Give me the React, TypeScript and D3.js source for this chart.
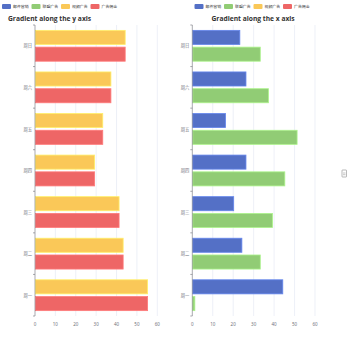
import React, { useRef, useEffect } from 'react';
import * as d3 from 'd3';

const days = ['周一', '周二', '周三', '周四', '周五', '周六', '周日'];
const legendNames = ['邮件营销', '联盟广告', '视频广告', '广告佣金'];
const palette = ['#5470c6', '#91cc75', '#fac858', '#ee6666'];

// left chart
const videoAds = [55, 43, 41, 29, 33, 37, 44];
const adCommission = [55, 43, 41, 29, 33, 37, 44];
// right chart
const emailMarketing = [44, 24, 20, 26, 16, 26, 23];
const unionAds = [1, 33, 39, 45, 51, 37, 33];

const xTicks = [0, 10, 20, 30, 40, 50, 60];

const W = 350;
const H = 350;

const App: React.FC = () => {
    const svgRef = useRef<SVGSVGElement | null>(null);

    useEffect(() => {
        if (!svgRef.current) return;
        const svg = d3.select(svgRef.current);
        svg.selectAll('*').remove();

        const top = 25;
        const bottom = 316;

        const drawLegend = (x0: number) => {
            const g = svg.append('g').attr('transform', `translate(${x0},4)`);
            let x = 0;
            legendNames.forEach((name, i) => {
                g.append('rect')
                    .attr('x', x)
                    .attr('y', 0)
                    .attr('width', 9)
                    .attr('height', 5)
                    .attr('rx', 1)
                    .attr('fill', palette[i]);
                g.append('text')
                    .attr('x', x + 11)
                    .attr('y', 4.4)
                    .attr('font-size', 3.9)
                    .attr('fill', '#333')
                    .attr('font-family', '"Noto Sans CJK SC", sans-serif')
                    .text(name);
                x += 29.5;
            });
        };

        const drawChart = (
            left: number,
            right: number,
            title: string,
            titleX: number,
            series: { values: number[]; color: string }[],
        ) => {
            const x = d3.scaleLinear().domain([0, 60]).range([left, right]);
            const y = d3
                .scaleBand<string>()
                .domain(days.slice().reverse())
                .range([top, bottom])
                .padding(0);
            const inner = d3
                .scaleBand<number>()
                .domain(series.map((_, i) => i))
                .range([0, y.bandwidth()])
                .paddingInner(0.16)
                .paddingOuter(0.32);

            svg.append('text')
                .attr('x', titleX)
                .attr('y', 20.5)
                .attr('font-size', 6.7)
                .attr('font-weight', 'bold')
                .attr('fill', '#333')
                .attr('font-family', '"Open Sans", sans-serif')
                .text(title);

            // grid
            svg.append('g')
                .selectAll('line')
                .data(xTicks.slice(1))
                .enter()
                .append('line')
                .attr('x1', (d) => x(d))
                .attr('x2', (d) => x(d))
                .attr('y1', top)
                .attr('y2', bottom)
                .attr('stroke', '#e0e6f1')
                .attr('stroke-width', 0.6);

            // bars
            series.forEach((s, i) => {
                const stroke = d3.color(s.color)!.brighter(0.5).formatHex();
                svg.append('g')
                    .selectAll('rect')
                    .data(days.map((d, j) => ({ day: d, v: s.values[j] })))
                    .enter()
                    .append('rect')
                    .attr('x', x(0) + 0.5)
                    .attr('y', (d) => (y(d.day) as number) + (inner(i) as number))
                    .attr('width', (d) => Math.max(0, x(d.v) - x(0)))
                    .attr('height', inner.bandwidth())
                    .attr('fill', s.color)
                    .attr('stroke', stroke)
                    .attr('stroke-width', 0.8);
            });

            // y axis
            const ya = svg.append('g');
            ya.append('line')
                .attr('x1', left)
                .attr('x2', left)
                .attr('y1', top)
                .attr('y2', bottom)
                .attr('stroke', '#6e7079')
                .attr('stroke-width', 0.6);
            const bounds = days.map((d) => y(d) as number).concat([bottom]);
            ya.selectAll('line.tick')
                .data(bounds)
                .enter()
                .append('line')
                .attr('class', 'tick')
                .attr('x1', left - 2)
                .attr('x2', left)
                .attr('y1', (d) => d)
                .attr('y2', (d) => d)
                .attr('stroke', '#6e7079')
                .attr('stroke-width', 0.6);
            ya.selectAll('text')
                .data(days)
                .enter()
                .append('text')
                .attr('x', left - 3)
                .attr('y', (d) => (y(d) as number) + y.bandwidth() / 2 + 1.6)
                .attr('text-anchor', 'end')
                .attr('font-size', 4.3)
                .attr('fill', '#6e7079')
                .attr('font-family', '"Noto Sans CJK SC", sans-serif')
                .text((d) => d);

            // x axis labels
            svg.append('g')
                .selectAll('text')
                .data(xTicks)
                .enter()
                .append('text')
                .attr('x', (d) => x(d))
                .attr('y', bottom + 10)
                .attr('text-anchor', 'middle')
                .attr('font-size', 4.5)
                .attr('fill', '#6e7079')
                .attr('font-family', '"Noto Sans", sans-serif')
                .text((d) => d);
        };

        drawLegend(2);
        drawLegend(194.5);

        drawChart(35, 157.3, 'Gradient along the y axis', 8, [
            { values: videoAds, color: palette[2] },
            { values: adCommission, color: palette[3] },
        ]);
        drawChart(192.3, 315, 'Gradient along the x axis', 211.5, [
            { values: emailMarketing, color: palette[0] },
            { values: unionAds, color: palette[1] },
        ]);

        // toolbox icon
        const tb = svg.append('g').attr('transform', 'translate(342,170)');
        tb.append('rect')
            .attr('width', 4.5)
            .attr('height', 7)
            .attr('rx', 0.5)
            .attr('fill', 'none')
            .attr('stroke', '#8a8a8a')
            .attr('stroke-width', 0.6);
        tb.append('line')
            .attr('x1', 1)
            .attr('x2', 3.5)
            .attr('y1', 3)
            .attr('y2', 3)
            .attr('stroke', '#8a8a8a')
            .attr('stroke-width', 0.5);
        tb.append('line')
            .attr('x1', 1)
            .attr('x2', 3.5)
            .attr('y1', 4.7)
            .attr('y2', 4.7)
            .attr('stroke', '#8a8a8a')
            .attr('stroke-width', 0.5);
    }, []);

    return (
        <svg
            ref={svgRef}
            width={W}
            height={H}
            style={{ position: 'absolute', left: 0, top: 0, background: '#fff' }}
        ></svg>
    );
};

export default App;
